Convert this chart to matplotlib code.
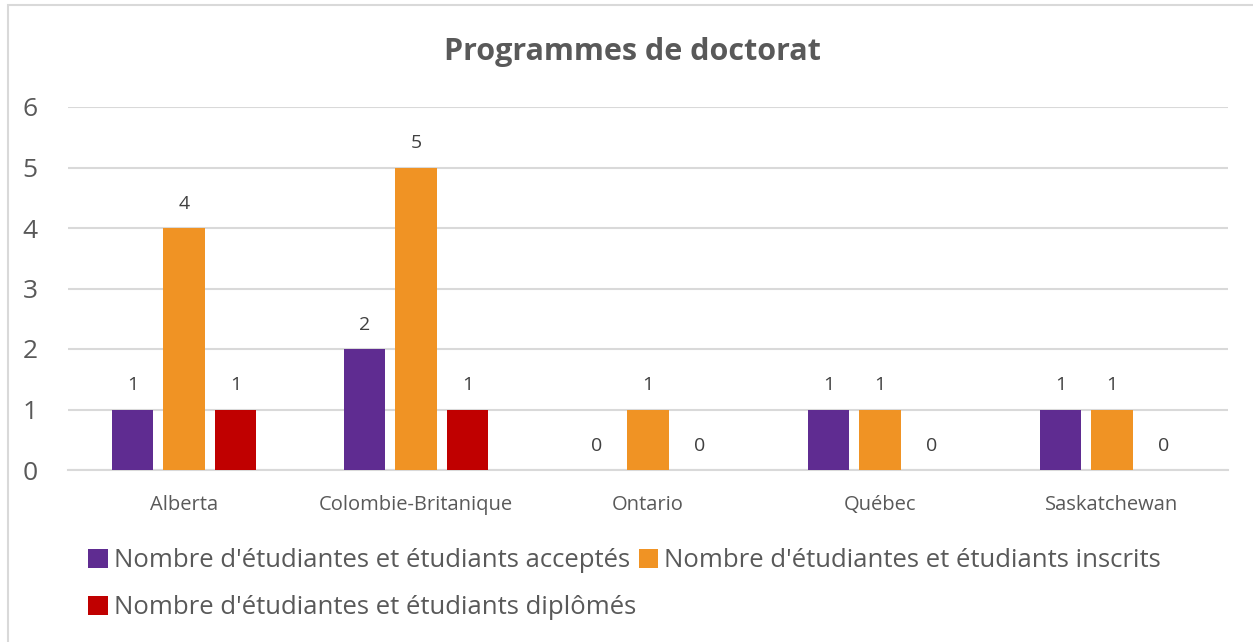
import numpy as np
import matplotlib.pyplot as plt
from matplotlib.patches import Rectangle

plt.rcParams['font.family'] = ['Open Sans', 'DejaVu Sans']

provinces = ['Alberta', 'Colombie-Britanique', 'Ontario', 'Québec', 'Saskatchewan']
acceptes = [1, 2, 0, 1, 1]
inscrits = [4, 5, 1, 1, 1]
diplomes = [1, 1, 0, 0, 0]
series_names = ["Nombre d'étudiantes et étudiants acceptés",
                "Nombre d'étudiantes et étudiants inscrits",
                "Nombre d'étudiantes et étudiants diplômés"]
colors = ['#5f2c91', '#f09324', '#c00000']

fig = plt.figure(figsize=(12.53, 6.42), dpi=100)
ax = fig.add_axes([68 / 1253, 1 - 470 / 642, 1160 / 1253, 363 / 642])

# chart border
fig.patches.append(Rectangle((8 / 1253, -0.01), 1.1, 1 - 5 / 642 + 0.01,
                             transform=fig.transFigure, fill=False,
                             edgecolor='#d9d9d9', linewidth=1.5))

x = np.arange(len(provinces))
w = 0.177
step = 0.222
handles = []
for i, (vals, name, c) in enumerate(zip([acceptes, inscrits, diplomes], series_names, colors)):
    pos = x + (i - 1) * step
    b = ax.bar(pos, vals, width=w, color=c, label=name, zorder=3)
    handles.append(b)
    for p, v in zip(pos, vals):
        ax.annotate(str(v), (p, v), xytext=(0, 11), textcoords='offset points',
                    ha='center', va='bottom', fontsize=14, color='#404040')

ax.set_xlim(-0.5, len(provinces) - 0.5)
ax.set_ylim(0, 6)
ax.set_yticks(range(7))
ax.yaxis.grid(True, color='#d9d9d9', linewidth=1.5, zorder=0)
ax.set_axisbelow(True)
for s in ['top', 'right', 'left']:
    ax.spines[s].set_visible(False)
ax.spines['bottom'].set_color('#d9d9d9')
ax.spines['bottom'].set_linewidth(1.5)
ax.tick_params(axis='both', length=0)
ax.tick_params(axis='y', labelsize=19, labelcolor='#595959', pad=22)
ax.tick_params(axis='x', labelsize=14.5, labelcolor='#595959', pad=18)
ax.set_xticks(x)
ax.set_xticklabels(provinces)

fig.text(632 / 1253, 1 - 52 / 642, 'Programmes de doctorat', ha='center', va='center',
         fontsize=22, fontweight='bold', color='#595959')

# legend fills column-wise, reorder so rows read acceptés, inscrits / diplômés
order = [0, 2, 1]
fig.legend([handles[k] for k in order], [series_names[k] for k in order],
           loc='upper left', bbox_to_anchor=(78 / 1253, 1 - 538 / 642), ncol=2,
           frameon=False, fontsize=18.5, labelcolor='#595959',
           handlelength=0.75, handleheight=0.75, handletextpad=0.25,
           columnspacing=0.1, labelspacing=0.85, borderaxespad=0)

fig.savefig('out.png', dpi=100)
